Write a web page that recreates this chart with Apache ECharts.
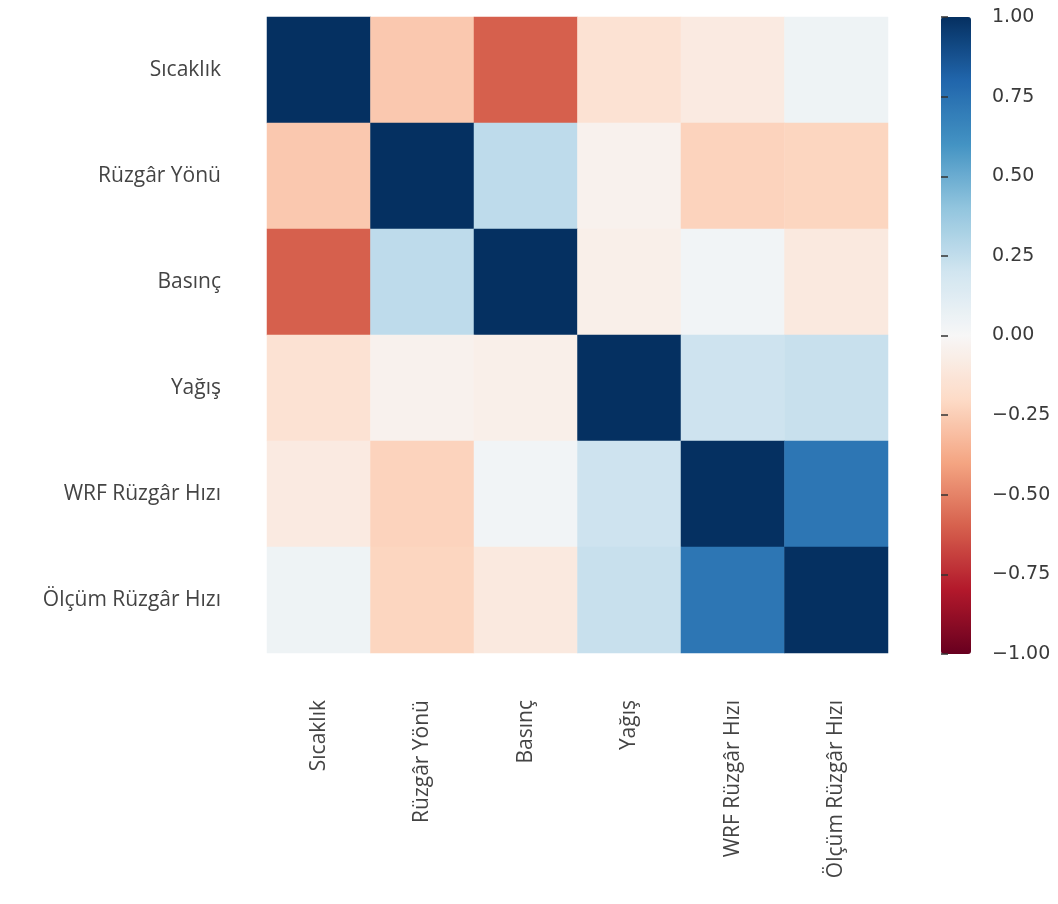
<!DOCTYPE html>
<html>
<head>
<meta charset="utf-8">
<title>Korelasyon Matrisi</title>
<script src="https://cdn.jsdelivr.net/npm/echarts@6/dist/echarts.min.js"></script>
<style>
  html, body { margin: 0; padding: 0; background: #ffffff; }
  #chart { width: 1058px; height: 904px; }
</style>
</head>
<body>
<div id="chart"></div>
<script>
// Variables shown on both axes (top-to-bottom and left-to-right)
const variables = ['Sıcaklık', 'Rüzgâr Yönü', 'Basınç', 'Yağış', 'WRF Rüzgâr Hızı', 'Ölçüm Rüzgâr Hızı'];

// Pairwise correlation coefficients, one row per variable
const rowSicaklik = [1.00, -0.27, -0.60, -0.15, -0.09, 0.05];
const rowRuzgarYonu = [-0.27, 1.00, 0.26, -0.04, -0.23, -0.22];
const rowBasinc = [-0.60, 0.26, 1.00, -0.06, 0.03, -0.10];
const rowYagis = [-0.15, -0.04, -0.06, 1.00, 0.21, 0.23];
const rowWrfRuzgarHizi = [-0.09, -0.23, 0.03, 0.21, 1.00, 0.73];
const rowOlcumRuzgarHizi = [0.05, -0.22, -0.10, 0.23, 0.73, 1.00];

// Colour bar tick values
const colorbarTicks = [-1.00, -0.75, -0.50, -0.25, 0.00, 0.25, 0.50, 0.75, 1.00];

const rows = [rowSicaklik, rowRuzgarYonu, rowBasinc, rowYagis, rowWrfRuzgarHizi, rowOlcumRuzgarHizi];

// Diverging red-blue palette
const rdBu = ['#67001f', '#b2182b', '#d6604d', '#f4a582', '#fddbc7', '#f7f7f7',
              '#d1e5f0', '#92c5de', '#4393c3', '#2166ac', '#053061'];

const cells = [];
rows.forEach((row, yi) => {
  row.forEach((v, xi) => cells.push([xi, yi, v]));
});

const fmtTick = v => (v < 0 ? '\u2212' + Math.abs(v).toFixed(2) : v.toFixed(2));

const labelFont = { fontFamily: 'Open Sans', fontSize: 21, color: '#444444' };

const chart = echarts.init(document.getElementById('chart'));
chart.setOption({
  backgroundColor: '#ffffff',
  animation: false,
  grid: [
    { left: 267, top: 17, width: 621, height: 636 },
    { left: 941, top: 17, width: 30, height: 637 }
  ],
  xAxis: [
    {
      type: 'category', gridIndex: 0, data: variables,
      axisLine: { show: false }, axisTick: { show: false }, splitLine: { show: false },
      axisLabel: Object.assign({ rotate: 90, margin: 47, interval: 0 }, labelFont)
    },
    {
      type: 'value', gridIndex: 1, show: false, min: 0, max: 1
    }
  ],
  yAxis: [
    {
      type: 'category', gridIndex: 0, data: variables, inverse: true,
      axisLine: { show: false }, axisTick: { show: false }, splitLine: { show: false },
      axisLabel: Object.assign({ margin: 46, interval: 0 }, labelFont)
    },
    {
      type: 'value', gridIndex: 1, position: 'right',
      min: -1, max: 1, interval: 0.25,
      axisLine: { show: true, lineStyle: { color: '#ffffff', opacity: 0 } },
      splitLine: { show: false },
      axisTick: { show: true, inside: false, length: 7, lineStyle: { color: '#333333', width: 1.5 } },
      axisLabel: {
        margin: 21, fontFamily: 'DejaVu Sans', fontSize: 19, color: '#3a3a3a',
        formatter: v => (colorbarTicks.some(t => Math.abs(t - v) < 1e-9) ? fmtTick(v) : '')
      },
      z: 10
    }
  ],
  visualMap: {
    type: 'continuous',
    min: -1, max: 1,
    seriesIndex: 0,
    calculable: false,
    hoverLink: false,
    left: 941, top: 17,
    padding: 0,
    itemWidth: 30, itemHeight: 637,
    text: null,
    showLabel: false,
    inRange: { color: rdBu },
    z: 1
  },
  series: [
    {
      type: 'heatmap',
      xAxisIndex: 0, yAxisIndex: 0,
      data: cells,
      itemStyle: { borderWidth: 0 },
      emphasis: { disabled: true }
    }
  ]
});
</script>
</body>
</html>
